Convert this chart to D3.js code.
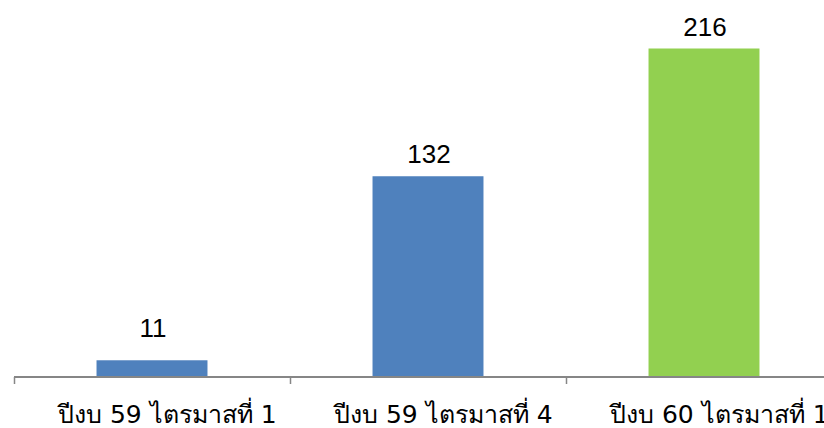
<!DOCTYPE html>
<html><head><meta charset="utf-8">
<script src="https://cdn.jsdelivr.net/npm/d3@7"></script>
<style>html,body{margin:0;padding:0;background:#fff;}</style>
</head><body>
<svg id="chart" width="824" height="428"></svg>
<script>
const categories = ["ปีงบ 59 ไตรมาสที่ 1", "ปีงบ 59 ไตรมาสที่ 4", "ปีงบ 60 ไตรมาสที่ 1"];
const values = [11, 132, 216];
const barColors = ["#4F81BD", "#4F81BD", "#92D050"];

const svg = d3.select("#chart");
const baseY = 377;
const x = d3.scaleBand().domain(categories).range([14, 842]).paddingInner(0.598).paddingOuter(0.299);
const y = d3.scaleLinear().domain([0, 216]).range([baseY, 48.5]);

svg.selectAll("rect.bar").data(values).enter().append("rect")
  .attr("class", "bar")
  .attr("x", (d, i) => x(categories[i]))
  .attr("width", x.bandwidth())
  .attr("y", d => y(d))
  .attr("height", d => y(0) - y(d))
  .attr("fill", (d, i) => barColors[i]);

svg.selectAll("text.val").data(values).enter().append("text")
  .attr("class", "val")
  .attr("x", (d, i) => x(categories[i]) + x.bandwidth() / 2 + 1)
  .attr("y", d => Math.min(y(d) - 13, y(0) - 40))
  .attr("text-anchor", "middle")
  .attr("font-family", "Liberation Sans, Arial, sans-serif")
  .attr("font-size", 26)
  .attr("fill", "#000")
  .text(d => d);

// axis line
const axisColor = "#868686";
svg.append("line").attr("x1", 14).attr("x2", 824).attr("y1", baseY).attr("y2", baseY)
  .attr("stroke", axisColor).attr("stroke-width", 2);
const bounds = categories.map(c => x(c) - x.step() * x.paddingOuter());
svg.selectAll("line.tick").data(bounds).enter().append("line")
  .attr("class", "tick")
  .attr("x1", d => d + 0.5).attr("x2", d => d + 0.5)
  .attr("y1", baseY).attr("y2", baseY + 7)
  .attr("stroke", axisColor).attr("stroke-width", 1.5);

svg.selectAll("text.cat").data(categories).enter().append("text")
  .attr("class", "cat")
  .attr("x", d => x(d) - x.step() * x.paddingOuter() + 44)
  .attr("y", 423)
  .attr("text-anchor", "start")
  .attr("font-family", "Tahoma, 'DejaVu Sans', 'Noto Sans', sans-serif")
  .attr("font-size", 25)
  .attr("fill", "#000")
  .text(d => d);
</script>
</body></html>
